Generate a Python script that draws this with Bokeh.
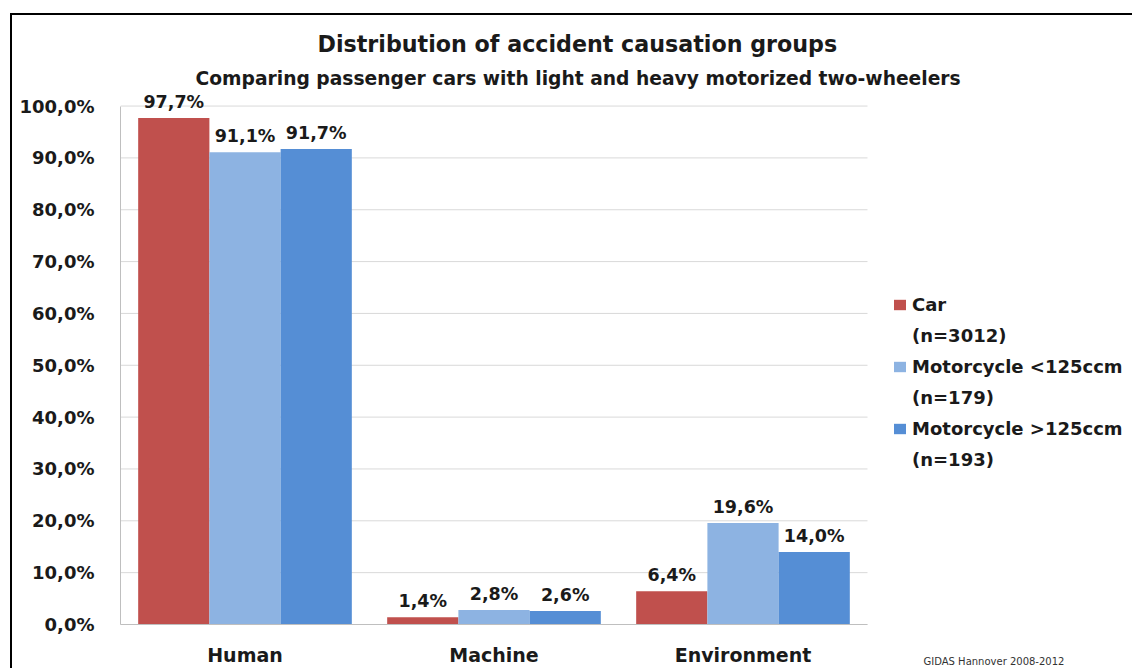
from bokeh.plotting import figure
from bokeh.models import (ColumnDataSource, Range1d, Label, LabelSet, Legend, LegendItem,
                          CustomJSTickFormatter, FixedTicker, Title)
from bokeh.core.properties import value
from bokeh.embed import file_html
from bokeh.resources import INLINE

# ---------------- data ----------------
categories = ["Human", "Machine", "Environment"]
series_names = ["Car", "Motorcycle <125ccm", "Motorcycle >125ccm"]
series_counts = ["(n=3012)", "(n=179)", "(n=193)"]
car = [97.7, 1.4, 6.4]
moto_light = [91.1, 2.8, 19.6]
moto_heavy = [91.7, 2.6, 14.0]
y_ticks = [0, 10, 20, 30, 40, 50, 60, 70, 80, 90, 100]
title_text = "Distribution of accident causation groups"
subtitle_text = "Comparing passenger cars with light and heavy motorized two-wheelers"
source_text = "GIDAS Hannover 2008-2012"

# ---------------- style ----------------
FONT = "DejaVu Sans"
TXT = "#1a1a1a"
colors = ["#C0504D", "#8DB3E2", "#558ED5"]
offsets = [-0.286, 0.0, 0.286]
BAR_W = 0.286
N = len(categories)
cat_pos = [i + 0.5 for i in range(N)]          # category centres on the x scale

W, H = 1132, 668
LEFT = 120
PX_PER_CAT = 249.0
p = figure(x_range=Range1d(0, (W - LEFT) / PX_PER_CAT), y_range=Range1d(0, 103),
           width=W, height=H, output_backend="svg", toolbar_location=None,
           min_border_left=LEFT, min_border_right=0, min_border_top=90, min_border_bottom=43,
           title_location=None)
p.outline_line_color = None
p.background_fill_color = "white"
p.border_fill_alpha = 0
p.styles = {"background": "linear-gradient(#000,#000) 10px 13px / 1122px 2px no-repeat, "
                          "linear-gradient(#000,#000) 10px 13px / 2px 655px no-repeat, #ffffff"}

def fmt(v):
    return f"{v:.1f}".replace(".", ",") + "%"

# horizontal grid lines spanning the category area only
p.xgrid.grid_line_color = None
p.ygrid.grid_line_color = None
p.segment(x0=[0] * len(y_ticks), x1=[N] * len(y_ticks), y0=y_ticks, y1=y_ticks,
          line_color="#D9D9D9", line_width=1)

series = [car, moto_light, moto_heavy]
renderers = []
for vals, col, off in zip(series, colors, offsets):
    src = ColumnDataSource(dict(x=[c + off for c in cat_pos], val=vals, lbl=[fmt(v) for v in vals]))
    r = p.vbar(x="x", top="val", width=BAR_W, source=src, fill_color=col, line_color=None)
    renderers.append(r)
    p.add_layout(LabelSet(x="x", y="val", text="lbl", source=src,
                          text_align="center", text_baseline="alphabetic", y_offset=10,
                          text_font=value(FONT), text_font_style="bold",
                          text_font_size="17.5px", text_color=TXT))

# y axis
p.yaxis.ticker = FixedTicker(ticks=y_ticks)
p.yaxis.bounds = (0, 100)
p.yaxis.formatter = CustomJSTickFormatter(code="return tick.toFixed(1).replace('.', ',') + '%';")
p.yaxis.axis_line_color = "#BFBFBF"
p.yaxis.major_tick_line_color = None
p.yaxis.minor_tick_line_color = None
p.yaxis.major_tick_out = 0
p.yaxis.major_tick_in = 0
p.yaxis.minor_tick_out = 0
p.yaxis.major_label_standoff = 26
p.yaxis.major_label_text_font = FONT
p.yaxis.major_label_text_font_style = "bold"
p.yaxis.major_label_text_font_size = "18px"
p.yaxis.major_label_text_color = TXT

# x axis: category names at the category centres
p.xaxis.ticker = FixedTicker(ticks=cat_pos)
p.xaxis.bounds = (0, N)
p.xaxis.formatter = CustomJSTickFormatter(args=dict(cats=categories),
                                          code="return cats[Math.floor(tick)];")
p.xaxis.axis_line_color = "#BFBFBF"
p.xaxis.major_tick_line_color = None
p.xaxis.minor_tick_line_color = None
p.xaxis.major_tick_out = 0
p.xaxis.major_tick_in = 0
p.xaxis.minor_tick_out = 0
p.xaxis.major_label_standoff = 19
p.xaxis.major_label_text_font = FONT
p.xaxis.major_label_text_font_style = "bold"
p.xaxis.major_label_text_font_size = "19px"
p.xaxis.major_label_text_color = TXT

# titles (subtitle nearest to the frame, main title above it)
p.add_layout(Title(text=subtitle_text, align="left", offset=75, standoff=4,
                   text_font=FONT, text_font_style="bold", text_font_size="18.7px",
                   text_color=TXT), "above")
p.add_layout(Title(text=title_text, align="left", offset=197, standoff=14,
                   text_font=FONT, text_font_style="bold", text_font_size="22.2px",
                   text_color=TXT), "above")

# source note, positioned through the data scales (bottom-right corner)
p.add_layout(Label(x=3.225, y=-7.1, x_units="data", y_units="data", text=source_text,
                   text_align="left", text_baseline="alphabetic", text_font=FONT,
                   text_font_size="10px", text_color="#333333"), "above")

# legend: name line with swatch, count line without
items = []
for name, cnt, r in zip(series_names, series_counts, renderers):
    items.append(LegendItem(label=name, renderers=[r]))
    items.append(LegendItem(label=cnt, renderers=[]))
legend = Legend(items=items, location=(892 - LEFT, 154))
legend.border_line_color = None
legend.background_fill_alpha = 0
legend.padding = 0
legend.margin = 0
legend.spacing = 10
legend.label_height = 21
legend.glyph_width = 15
legend.glyph_height = 13
legend.label_standoff = 5
legend.label_text_font = FONT
legend.label_text_font_style = "bold"
legend.label_text_font_size = "18px"
legend.label_text_color = TXT
p.add_layout(legend)

open("out.html", "w").write(file_html(p, INLINE))
